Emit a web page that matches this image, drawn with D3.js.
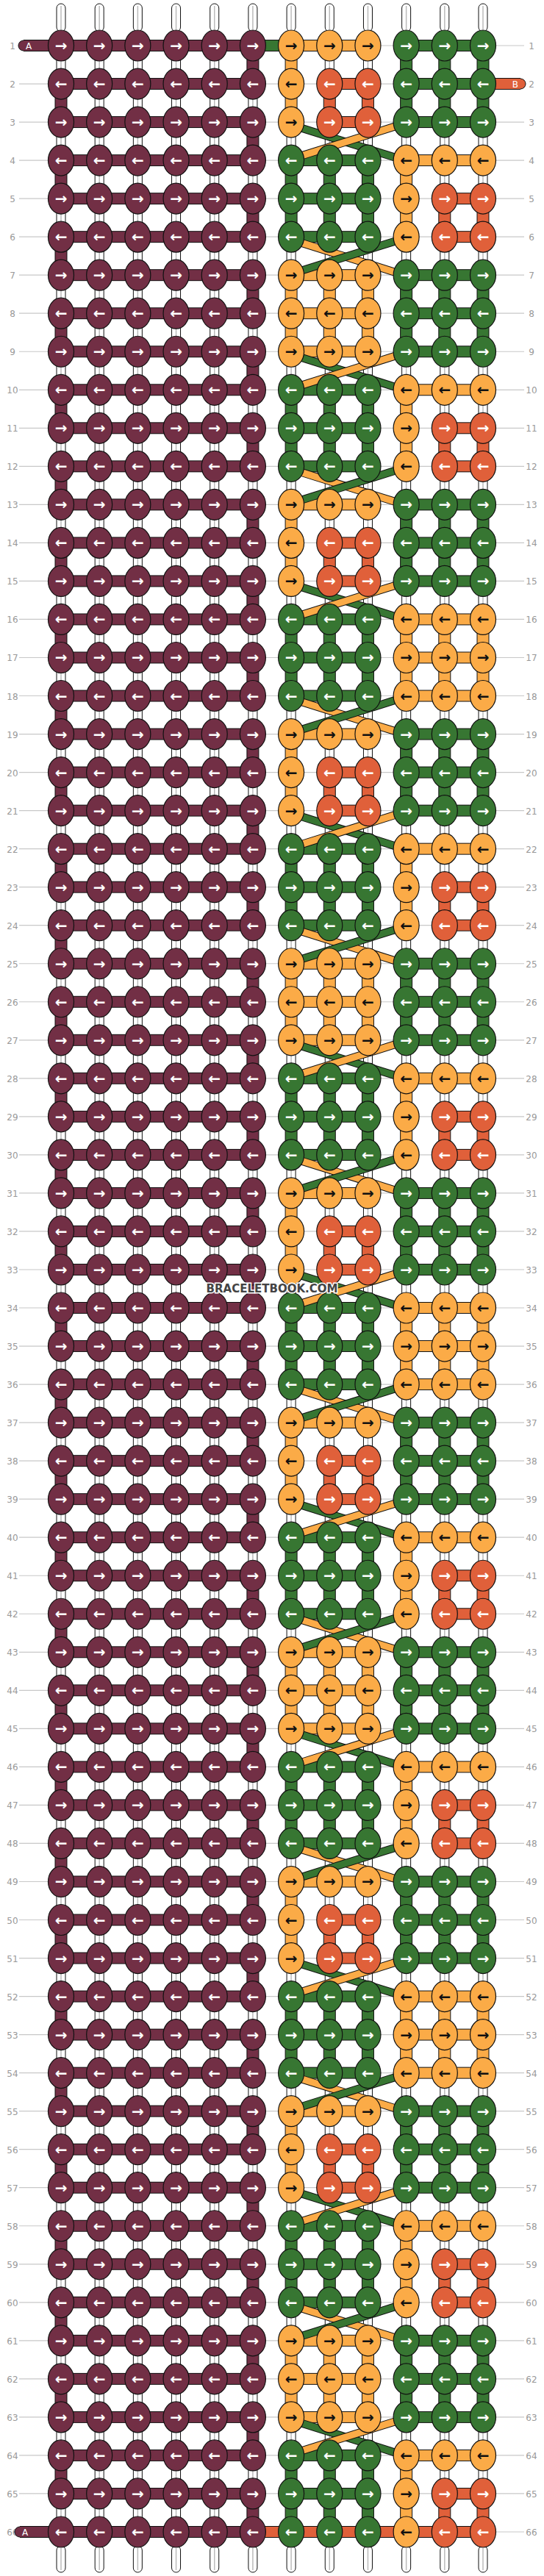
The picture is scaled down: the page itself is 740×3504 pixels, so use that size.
<!DOCTYPE html>
<html>
<head>
<meta charset="utf-8">
<script src="https://cdn.jsdelivr.net/npm/d3@7"></script>
<style>
  body { margin: 0; background: #fff; }
  svg { display: block; }
</style>
</head>
<body>
<div id="chart"></div>
<script>
// knot colours per 3-row block (columns 7-12), left six columns are always maroon
const blockA = ["OOOGGG", "ORRGGG", "ORRGGG"];
const blockB = ["GGGOOO", "GGGORR", "GGGORR"];
const blockC = ["OOOGGG", "OOOGGG", "OOOGGG"];
const blockD = ["GGGOOO", "GGGOOO", "GGGOOO"];
const blockOrder = ["A","B","C","B","A","D","A","B","C","B","A","D","A","B","C","B","A","D","A","B","C","B"];
const leftColors = "MMMMMM";

const palette = { M: "#722f45", O: "#fbab47", G: "#377632", R: "#e0603a" };

const blocks = { A: blockA, B: blockB, C: blockC, D: blockD };
const rows = [];
blockOrder.forEach(b => blocks[b].forEach(s => rows.push(leftColors + s)));

const nRows = rows.length, nCols = 12;
const width = 740, height = 3504;

const x = d3.scaleLinear().domain([0, nCols - 1]).range([83, 657]);
const y = d3.scaleLinear().domain([1, nRows]).range([62, 3444]);
const rx = 17.5, ry = 21;

const svg = d3.select("#chart").append("svg").attr("width", width).attr("height", height);

// row guide lines and labels
const rowIdx = d3.range(1, nRows + 1);
svg.append("g").selectAll("line").data(rowIdx).join("line")
  .attr("x1", 26).attr("x2", 713)
  .attr("y1", d => y(d)).attr("y2", d => y(d))
  .attr("stroke", "#c8c8c8").attr("stroke-width", 1.2);
svg.append("g").selectAll("text").data(rowIdx).join("text")
  .attr("x", 17).attr("y", d => y(d) + 5).attr("text-anchor", "middle")
  .attr("font-family", "DejaVu Sans, sans-serif").attr("font-size", 12).attr("fill", "#999")
  .text(d => d);
svg.append("g").selectAll("text").data(rowIdx).join("text")
  .attr("x", 723).attr("y", d => y(d) + 5).attr("text-anchor", "middle")
  .attr("font-family", "DejaVu Sans, sans-serif").attr("font-size", 12).attr("fill", "#999")
  .text(d => d);

const g = svg.append("g");

function whiteStub(cx, y1, y2, rounded) {
  g.append("rect").attr("x", cx - 6).attr("y", Math.min(y1, y2)).attr("width", 12)
    .attr("height", Math.abs(y2 - y1)).attr("rx", rounded ? 6 : 0)
    .attr("fill", "#fff").attr("stroke", "#111").attr("stroke-width", 1);
  g.append("line").attr("x1", cx).attr("x2", cx).attr("y1", Math.min(y1, y2) + 3).attr("y2", Math.max(y1, y2) - 3)
    .attr("stroke", "#bbb").attr("stroke-width", 1.5);
}
function colorBar(x1, y1, x2, y2, col, w) {
  g.append("line").attr("x1", x1).attr("y1", y1).attr("x2", x2).attr("y2", y2)
    .attr("stroke", "#111").attr("stroke-width", w + 2);
  g.append("line").attr("x1", x1).attr("y1", y1).attr("x2", x2).attr("y2", y2)
    .attr("stroke", col).attr("stroke-width", w);
}

// top and bottom loose strings
d3.range(nCols).forEach(c => {
  whiteStub(x(c), 5, y(1) - ry + 2, true);
  whiteStub(x(c), y(nRows) + ry - 2, 3499, true);
});

// vertical connectors
for (let r = 0; r < nRows - 1; r++) {
  for (let c = 0; c < nCols; c++) {
    const a = rows[r][c], b = rows[r + 1][c];
    const y1 = y(r + 1) + ry - 3, y2 = y(r + 2) - ry + 3;
    let colored = false;
    if (c < 6) {
      colored = (c === 0 && (r + 1) % 2 === 0) || (c === 5 && (r + 1) % 2 === 1);
    } else {
      colored = a === b && !((r + 1) % 3 === 0 && a !== "R");
    }
    if (colored) {
      g.append("rect").attr("x", x(c) - 8).attr("y", y1).attr("width", 16).attr("height", y2 - y1)
        .attr("fill", palette[a]).attr("stroke", "#111");
    } else {
      whiteStub(x(c), y1, y2, false);
    }
  }
}

// horizontal connectors
rows.forEach((s, r) => {
  for (let c = 0; c < nCols - 1; c++) {
    let col = null;
    if (s[c] === s[c + 1]) col = palette[s[c]];
    if (c === 5 && r === 0) col = palette.G;
    if (c === 5 && r === nRows - 1) col = palette.R;
    if (c >= 6 && r === nRows - 1) col = palette.R;
    if (col) colorBar(x(c) + rx - 2, y(r + 1), x(c + 1) - rx + 2, y(r + 1), col, 14);
  }
});

// diagonal strands where the orange/green halves swap
rows.forEach((s, r) => {
  if (r === nRows - 1) return;
  const n = rows[r + 1];
  if (s.slice(6, 9) !== n.slice(6, 9) && s[6] !== n[6]) {
    const yr = y(r + 1), yn = y(r + 2);
    const c1 = palette[s[6]] === palette.O ? palette.O : palette.G;
    colorBar(x(6) + rx - 4, yr + 8, x(9) - rx + 2, yn - 4, palette[s[9]] || c1, 9);
    colorBar(x(6) + rx - 4, yn - 6, x(9) - rx + 2, yr + 6, palette[n[9]], 9);
  }
});

// start strings
function tail(xEnd, xTip, yy, col, label) {
  colorBar(xTip, yy, xEnd, yy, col, 14);
  g.append("circle").attr("cx", xTip).attr("cy", yy).attr("r", 7).attr("fill", col).attr("stroke", "#111");
  g.append("rect").attr("x", Math.min(xTip, xEnd)).attr("y", yy - 7).attr("width", Math.abs(xEnd - xTip)).attr("height", 14).attr("fill", col);
  g.append("text").attr("x", xTip + (xTip < xEnd ? 3 : -3)).attr("y", yy + 5)
    .attr("text-anchor", xTip < xEnd ? "start" : "end")
    .attr("font-family", "DejaVu Sans, sans-serif").attr("font-size", 12).attr("fill", "#fff").text(label);
}
tail(x(0) - rx + 2, 32, y(1), palette.M, "A");
tail(x(11) + rx - 2, 708, y(2), palette.R, "B");
tail(x(0) - rx + 2, 27, y(nRows), palette.M, "A");

// knots
const knots = [];
rows.forEach((s, r) => s.split("").forEach((k, c) => knots.push({ r: r + 1, c, k })));
const kg = svg.append("g").selectAll("g").data(knots).join("g")
  .attr("transform", d => `translate(${x(d.c)},${y(d.r)})`);
kg.append("ellipse").attr("rx", rx).attr("ry", ry)
  .attr("fill", d => palette[d.k]).attr("stroke", "#111").attr("stroke-width", 1.2);
kg.append("text").attr("text-anchor", "middle").attr("y", 7)
  .attr("font-family", "DejaVu Sans, sans-serif").attr("font-size", 20).attr("font-weight", "bold")
  .attr("fill", d => d.k === "O" ? "#111" : "#fff")
  .text(d => d.r % 2 === 1 ? "→" : "←");

// watermark
svg.append("text").attr("x", 370).attr("y", 1758).attr("text-anchor", "middle")
  .attr("font-family", "DejaVu Sans, sans-serif").attr("font-size", 15).attr("font-weight", "bold")
  .attr("fill", "#444").attr("stroke", "#fff").attr("stroke-width", 3).attr("paint-order", "stroke")
  .text("BRACELETBOOK.COM");
</script>
</body>
</html>
